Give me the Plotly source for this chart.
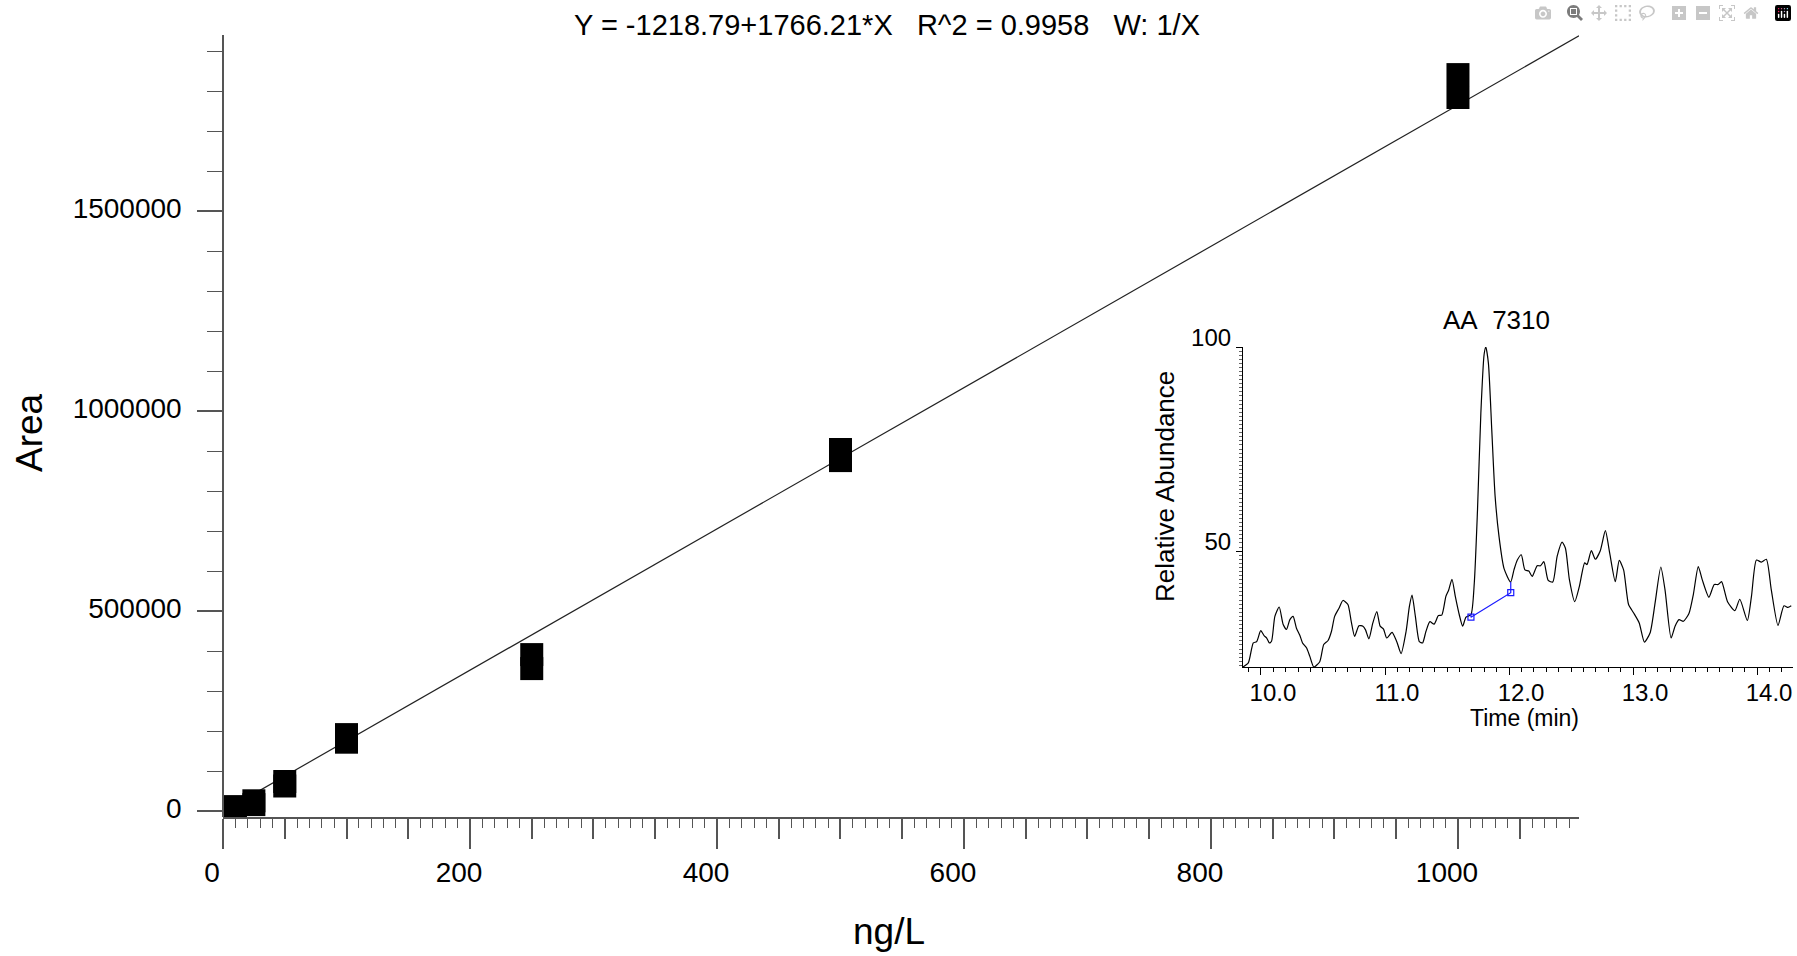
import plotly.graph_objects as go

# ---------------- data ----------------
conc = [5, 5, 10, 10, 25, 25, 50, 50, 100, 100, 250, 250, 500, 500, 1000, 1000]
area = [-3000, -13000, 11000, 0, 25500, 16000, 73700, 62500, 191000, 172000,
        391000, 356000, 903700, 876000, 1841000, 1783700]

fit_x = [5, 1098]
fit_y = [7612, 1938079]

title_text = "Y = -1218.79+1766.21*X\u00a0\u00a0\u00a0R^2 = 0.9958\u00a0\u00a0\u00a0W: 1/X"

chrom_t = [9.855, 9.898, 9.938, 9.965, 9.998, 10.025, 10.046, 10.067, 10.085, 10.112,
           10.147, 10.179, 10.206, 10.233, 10.259, 10.286, 10.313, 10.335, 10.367, 10.394,
           10.426, 10.474, 10.506, 10.541, 10.568, 10.594, 10.629, 10.661, 10.701, 10.728,
           10.755, 10.790, 10.822, 10.843, 10.870, 10.902, 10.934, 10.961, 10.988, 11.014,
           11.057, 11.095, 11.130, 11.170, 11.197, 11.218, 11.245, 11.277, 11.303, 11.330,
           11.362, 11.396, 11.431, 11.458, 11.491, 11.513, 11.540, 11.567, 11.599, 11.626,
           11.653, 11.693, 11.720, 11.746, 11.773, 11.799, 11.813, 11.834, 11.861, 11.888,
           11.920, 11.960, 12.013, 12.040, 12.067, 12.099, 12.128, 12.160, 12.187, 12.227,
           12.254, 12.281, 12.316, 12.353, 12.388, 12.428, 12.455, 12.487, 12.530, 12.567,
           12.610, 12.629, 12.664, 12.696, 12.736, 12.777, 12.812, 12.857, 12.889, 12.924,
           12.964, 13.004, 13.050, 13.092, 13.138, 13.178, 13.224, 13.258, 13.307, 13.339,
           13.371, 13.406, 13.451, 13.486, 13.526, 13.558, 13.612, 13.655, 13.687, 13.714,
           13.762, 13.821, 13.861, 13.922, 13.955, 13.995, 14.035, 14.075, 14.115, 14.169,
           14.217, 14.249, 14.276]
chrom_v = [21.6, 22.6, 27.5, 27.8, 30.5, 29.3, 28.7, 27.5, 27.9, 34.0,
           36.3, 32.0, 30.8, 33.2, 34.0, 31.1, 29.4, 27.5, 26.3, 24.2,
           21.6, 22.9, 27.1, 28.1, 30.3, 34.0, 36.0, 37.9, 36.9, 32.7,
           29.1, 31.7, 31.6, 30.7, 28.5, 32.4, 35.2, 31.6, 30.9, 28.7,
           30.1, 27.8, 24.9, 30.3, 36.5, 39.2, 34.0, 27.8, 27.5, 30.3,
           32.7, 32.1, 34.2, 34.3, 38.9, 40.4, 43.1, 38.9, 34.4, 31.6,
           33.8, 34.4, 42.2, 60.1, 83.8, 98.1, 100.0, 96.0, 79.7, 63.4,
           53.4, 45.7, 42.4, 45.4, 47.8, 49.1, 45.4, 45.1, 43.8, 46.4,
           46.4, 47.4, 42.8, 42.4, 48.7, 52.2, 50.7, 43.0, 37.6, 41.3,
           47.1, 46.7, 50.1, 48.0, 50.1, 55.0, 49.5, 42.5, 47.7, 45.4,
           36.9, 34.9, 32.4, 27.7, 30.0, 37.3, 46.1, 40.5, 28.7, 31.6,
           33.2, 32.8, 34.7, 39.3, 46.2, 43.0, 38.7, 41.8, 41.8, 42.5,
           37.6, 35.4, 38.2, 33.0, 38.9, 47.8, 47.3, 48.0, 40.5, 31.8,
           36.6, 36.2, 36.6]

base_t = [11.693, 11.693, 12.014, 12.014]
base_v = [34.4, 33.8, 39.8, 42.4]
base_mark_t = [11.693, 12.014]
base_mark_v = [33.8, 39.8]

peak_label = "AA\u00a0\u00a07310"

# ---------------- figure ----------------
W, H = 1797, 956
FONT = "Liberation Sans, Arial, sans-serif"

fig = go.Figure()

fig.add_trace(go.Scatter(x=fit_x, y=fit_y, mode="lines",
                         line=dict(color="#222222", width=1.2),
                         xaxis="x", yaxis="y", hoverinfo="skip", showlegend=False))
fig.add_trace(go.Scatter(x=conc, y=area, mode="markers",
                         marker=dict(symbol="square", size=23, color="black",
                                     line=dict(width=0)),
                         xaxis="x", yaxis="y", showlegend=False))
# invisible trace to materialise the overlay tick axis
fig.add_trace(go.Scatter(x=[], y=[], xaxis="x3", yaxis="y", showlegend=False))

fig.add_trace(go.Scatter(x=chrom_t, y=chrom_v, mode="lines",
                         line=dict(color="black", width=1.2, shape="spline", smoothing=0.6),
                         xaxis="x2", yaxis="y2", showlegend=False))
fig.add_trace(go.Scatter(x=base_t, y=base_v, mode="lines",
                         line=dict(color="#1a1aff", width=1.2),
                         xaxis="x2", yaxis="y2", showlegend=False))
fig.add_trace(go.Scatter(x=base_mark_t, y=base_mark_v, mode="markers",
                         marker=dict(symbol="square-open", size=6, color="#1a1aff",
                                     line=dict(width=1.2)),
                         xaxis="x2", yaxis="y2", showlegend=False))

def px_x(p):
    return p / W

def px_y(p):
    return 1 - p / H

main_xdom = [px_x(223), px_x(1579)]
main_ydom = [px_y(817), px_y(35)]
ins_xdom = [px_x(1243), px_x(1793)]
ins_ydom = [px_y(667), px_y(347)]

axis_col = "#555555"

fig.update_layout(
    width=W, height=H, margin=dict(l=0, r=0, t=0, b=0, autoexpand=False),
    paper_bgcolor="white", plot_bgcolor="rgba(0,0,0,0)",
    font=dict(family=FONT, color="black"),
    xaxis=dict(domain=main_xdom, range=[0, 1098], anchor="y", automargin=False,
               showgrid=False, zeroline=False, showline=True, linecolor=axis_col, linewidth=1.5,
               tickmode="array", tickvals=[0, 200, 400, 600, 800, 1000],
               ticktext=["0", "200", "400", "600", "800", "1000"],
               ticks="outside", ticklen=30, tickcolor=axis_col, tickwidth=1.5,
               tickfont=dict(size=28, family=FONT), ticklabelshift=-11,
               minor=dict(dtick=10, tick0=0, ticks="outside", ticklen=9,
                          tickcolor=axis_col, tickwidth=1.2, showgrid=False)),
    xaxis3=dict(overlaying="x", matches="x", anchor="y", domain=main_xdom, automargin=False,
                range=[0, 1098], showgrid=False, zeroline=False, showline=False,
                tickmode="array", tickvals=[v for v in range(50, 1100, 50) if v % 200 != 0],
                ticks="outside", ticklen=21, tickcolor=axis_col, tickwidth=1.5,
                showticklabels=False),
    yaxis=dict(domain=main_ydom, range=[-15000, 1940000], anchor="free", position=main_xdom[0],
               automargin=False,
               showgrid=False, zeroline=False, showline=True, linecolor=axis_col, linewidth=1.5,
               tickmode="array", tickvals=[0, 500000, 1000000, 1500000],
               ticktext=["0", "500000", "1000000", "1500000"],
               ticks="outside", ticklen=25, tickcolor=axis_col, tickwidth=1.5,
               tickfont=dict(size=28, family=FONT), ticklabelstandoff=10, ticklabelshift=-3,
               minor=dict(dtick=100000, tick0=0, ticks="outside", ticklen=15,
                          tickcolor=axis_col, tickwidth=1.2, showgrid=False)),
    xaxis2=dict(domain=ins_xdom, range=[9.855, 14.29], anchor="y2", automargin=False,
                showgrid=False, zeroline=False, showline=True, linecolor="black", linewidth=1.2,
                tickmode="array", tickvals=[10, 11, 12, 13, 14],
                ticktext=["10.0", "11.0", "12.0", "13.0", "14.0"],
                ticks="outside", ticklen=7, tickcolor="black", tickwidth=1,
                tickfont=dict(size=24, family=FONT), ticklabelshift=12, ticklabelstandoff=-3,
                minor=dict(dtick=0.1, tick0=10, ticks="outside", ticklen=4,
                           tickcolor="black", tickwidth=1, showgrid=False)),
    yaxis2=dict(domain=ins_ydom, range=[21.6, 100], anchor="x2", automargin=False,
                showgrid=False, zeroline=False, showline=True, linecolor="black", linewidth=1.2,
                tickmode="array", tickvals=[50, 100], ticktext=["50", "100"],
                ticks="outside", ticklen=6, tickcolor="black", tickwidth=1,
                tickfont=dict(size=24, family=FONT), ticklabelshift=-9,
                minor=dict(dtick=1, tick0=0, ticks="outside", ticklen=3,
                           tickcolor="#666666", tickwidth=1, showgrid=False)),
)

annotations = [
    dict(text=title_text, x=px_x(887), y=px_y(25), xref="paper", yref="paper",
         showarrow=False, font=dict(size=29, family=FONT), xanchor="center", yanchor="middle"),
    dict(text="Area", x=px_x(29), y=px_y(433), xref="paper", yref="paper", textangle=-90,
         showarrow=False, font=dict(size=37, family=FONT), xanchor="center", yanchor="middle"),
    dict(text="ng/L", x=px_x(889), y=px_y(931), xref="paper", yref="paper",
         showarrow=False, font=dict(size=37, family=FONT), xanchor="center", yanchor="middle"),
    dict(text=peak_label, x=px_x(1496), y=px_y(320), xref="paper", yref="paper",
         showarrow=False, font=dict(size=26, family=FONT), xanchor="center", yanchor="middle"),
    dict(text="Relative Abundance", x=px_x(1165), y=px_y(487), xref="paper", yref="paper",
         textangle=-90, showarrow=False, font=dict(size=26, family=FONT),
         xanchor="center", yanchor="middle"),
    dict(text="Time (min)", x=px_x(1524), y=px_y(718), xref="paper", yref="paper",
         showarrow=False, font=dict(size=23, family=FONT), xanchor="center", yanchor="middle"),
]
fig.update_layout(annotations=annotations)

fig.write_html("out.html",
               post_script="document.body.style.margin='0';document.body.style.overflow='hidden';")
